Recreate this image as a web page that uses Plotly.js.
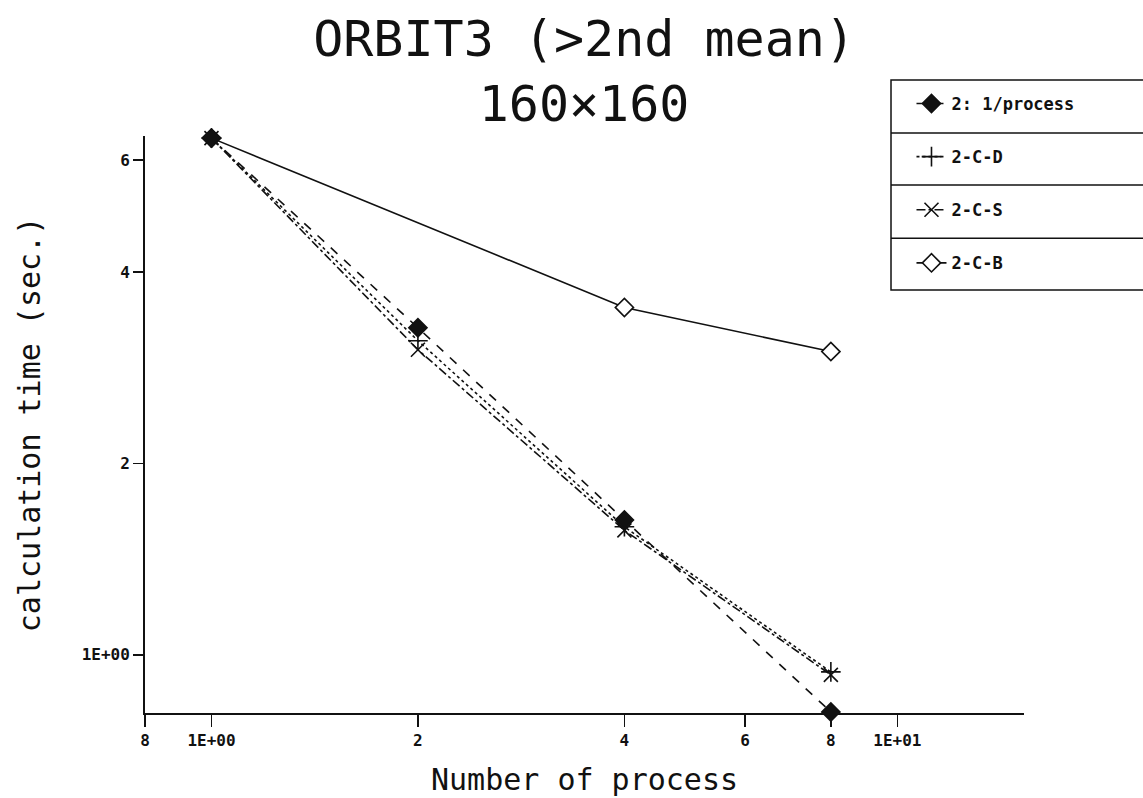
<!DOCTYPE html>
<html>
<head>
<meta charset="utf-8">
<script src="https://cdn.plot.ly/plotly-3.0.1.min.js"></script>
<style>html,body{margin:0;padding:0;background:#fff;}#chart{width:1143px;height:798px;}</style>
</head>
<body>
<div id="chart"></div>
<script>
// ---- data ----
const processes = [1, 2, 4, 8];
const processesB = [1, 4, 8];
const timeOnePerProcess = [6.5, 3.27, 1.63, 0.813];
const time2CD = [6.5, 3.12, 1.59, 0.94];
const time2CS = [6.5, 3.02, 1.57, 0.93];
const time2CB = [6.5, 3.52, 3.0];
const seriesNames = ['2: 1/process', '2-C-D', '2-C-S', '2-C-B'];
const xTickVals = [0.8, 1, 2, 4, 6, 8, 10];
const xTickText = ['8', '1E+00', '2', '4', '6', '8', '1E+01'];
const yTickVals = [1, 2, 4, 6];
const yTickText = ['1E+00', '2', '4', '6'];

const mono = 'DejaVu Sans Mono, Liberation Mono, monospace';
const ink = '#111';

function tr(x, y, name, dash, symbol, group, fill, rank) {
  return {
    x: x, y: y, name: name, type: 'scatter', mode: 'lines+markers',
    legendgroup: group, legendrank: rank, cliponaxis: false,
    line: {color: ink, width: 1.6, dash: dash},
    marker: {symbol: symbol, size: 14, color: fill, line: {color: ink, width: 1.6}}
  };
}

// 2-C-B drawn first so the filled markers sit on top at the shared start point
const data = [
  tr(processesB, time2CB, seriesNames[3], 'solid', 'diamond', 'g4', '#fff', 4),
  tr(processes, time2CD, seriesNames[1], 'dot', 'cross-thin-open', 'g2', ink, 2),
  tr(processes, time2CS, seriesNames[2], 'dashdot', 'x-thin-open', 'g3', ink, 3),
  tr(processes, timeOnePerProcess, seriesNames[0], 'dash', 'diamond', 'g1', ink, 1)
];

// legend frame (paper coords)
const lx0 = 0.8487, lx1 = 1.16;
const rowsY = [1.097, 1.005, 0.915, 0.823, 0.733];
const shapes = [{type: 'rect', xref: 'paper', yref: 'paper', x0: lx0, x1: lx1, y0: rowsY[4], y1: rowsY[0],
  line: {color: ink, width: 1.5}, fillcolor: 'rgba(0,0,0,0)'}];
for (let i = 1; i < 4; i++) {
  shapes.push({type: 'line', xref: 'paper', yref: 'paper', x0: lx0, x1: lx1, y0: rowsY[i], y1: rowsY[i],
    line: {color: ink, width: 1.5}});
}

const layout = {
  width: 1143, height: 798,
  paper_bgcolor: '#fff', plot_bgcolor: '#fff',
  margin: {l: 145, r: 119, t: 136, b: 85},
  font: {family: mono, color: ink},
  title: {
    text: 'ORBIT3 (>2nd mean)<br>160×160',
    font: {family: mono, size: 50, color: ink},
    x: 0.511, xanchor: 'center', yref: 'container', y: 0.93, yanchor: 'middle'
  },
  xaxis: {
    type: 'log', range: [Math.log10(0.8), Math.log10(15.3)],
    tickmode: 'array', tickvals: xTickVals, ticktext: xTickText,
    ticks: 'outside', ticklen: 12, tickwidth: 1.5, tickcolor: ink,
    showline: true, linecolor: ink, linewidth: 2, showgrid: false, zeroline: false,
    tickfont: {family: mono, size: 16, color: ink, weight: 'bold'},
    title: {text: 'Number of process', font: {family: mono, size: 30, color: ink}, standoff: 20}
  },
  yaxis: {
    type: 'log', range: [Math.log10(0.81), Math.log10(6.55)],
    tickmode: 'array', tickvals: yTickVals, ticktext: yTickText,
    ticks: 'outside', ticklen: 10, tickwidth: 1.5, tickcolor: ink,
    showline: true, linecolor: ink, linewidth: 2, showgrid: false, zeroline: false,
    tickfont: {family: mono, size: 16, color: ink, weight: 'bold'},
    title: {text: 'calculation time (sec.)', font: {family: mono, size: 30, color: ink}, standoff: 32}
  },
  showlegend: true,
  legend: {
    x: 0.872, y: (713 - 86) / 577, xanchor: 'left', yanchor: 'top',
    bgcolor: 'rgba(0,0,0,0)', borderwidth: 0,
    font: {family: mono, size: 17, color: ink, weight: 'bold'},
    tracegroupgap: 28, traceorder: 'grouped'
  },
  shapes: shapes
};

Plotly.newPlot('chart', data, layout, {displayModeBar: false, staticPlot: true});
</script>
</body>
</html>
